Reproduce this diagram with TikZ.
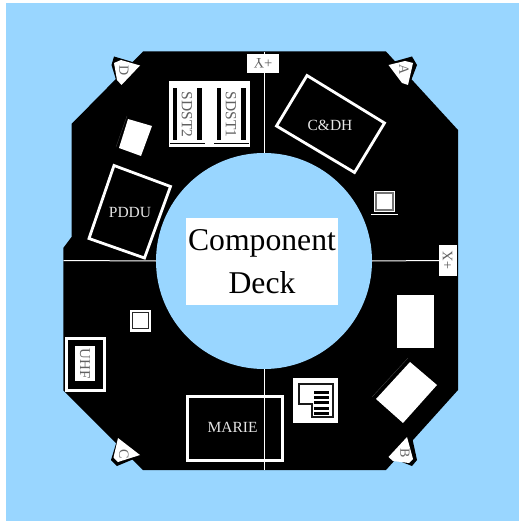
\documentclass[tikz,border=0pt]{standalone}
\usepackage{fontspec}
\setmainfont{Liberation Serif}
\definecolor{skyb}{HTML}{99D6FF}
\tikzset{
  box/.style={inner sep=0pt,outer sep=0pt,align=center},
  solidw/.style={box,fill=white},
  solidk/.style={box,fill=black},
  frame/.style={box,draw=white,line width=2.8pt},
  framelabel/.style={box,text=white!90!black,font=\fontsize{15.5}{15.5}\selectfont},
  tag/.style={box,text=black!62,font=\fontsize{15.5}{15.5}\selectfont,rotate=-90},
  cornertag/.style={box,text=black!60,font=\fontsize{14}{14}\selectfont,rotate=-90},
  axistag/.style={box,text=black!62,font=\fontsize{14.5}{14.5}\selectfont},
  axis/.style={draw=white,line width=1pt},
  faint/.style={draw=black!72,line width=0.3pt},
  under/.style={draw=black,line width=1pt},
}
\begin{document}
\begin{tikzpicture}[x=1pt,y=-1pt]
\useasboundingbox (0,0) rectangle (519,521);
\fill[white] (0,0) rectangle (519,521);
\fill[skyb] (6,3) rectangle (519,521);
% deck
\fill[black] (143,51.5) -- (386,51.5) -- (458,130) -- (458,390) -- (386,470) -- (143,470) -- (63.3,390.5) -- (63.3,248) -- (71.5,237) -- (71.5,124) -- cycle;
\node[circle,fill=skyb,minimum size=216pt,box] (hole) at (264,261) {};
% axis lines
\coordinate (topend) at (264,52);
\coordinate (botend) at (264,469.5);
\coordinate (leftend) at (63.5,260.5);
\coordinate (rightend) at (440,260.5);
\draw[axis] (topend) -- (hole.north);
\draw[axis] (hole.south) -- (botend);
\draw[axis] (leftend) -- (hole.west);
\draw[axis] (hole.east) -- (rightend);
% centre label
\node[solidw,minimum width=152pt,minimum height=87pt,font=\fontsize{31.7}{43}\selectfont] (title) at (262,261.5) {Component\\Deck};
% axis tags
\node[solidw,minimum width=32pt,minimum height=19pt] (ypbox) at (263,63.5) {};
\node[axistag,rotate=180] (yp) at (263,63.5) {+Y};
\node[solidw,minimum width=18pt,minimum height=31pt] (xpbox) at (448,260) {};
\node[axistag,rotate=90] (xp) at (447.5,260) {+X};
% corner markers
\fill[black] (114,56.5) -- (141,64.5) -- (122,87) -- (117,83) -- (111.5,65) -- cycle;
\fill[white] (114,63) -- (121,60) -- (140,65.5) -- (121.5,85) -- (117,80) -- cycle;
\node[cornertag] (D) at (124,71) {D};
\fill[black] (389,63) -- (412,56.5) -- (417,65) -- (409,86) -- cycle;
\fill[white] (388.5,65) -- (405,61) -- (413,63) -- (408,85) -- (402,83) -- cycle;
\node[cornertag] (A) at (404,70) {A};
\fill[black] (389,457) -- (407,437) -- (412,437) -- (417,460) -- (412,466) -- cycle;
\fill[white] (388.5,457) -- (407,437) -- (413,459) -- (409,463) -- (393,461) -- cycle;
\node[cornertag] (B) at (405,453) {B};
\fill[black] (118,437) -- (141,456) -- (117,466) -- (111,460) -- cycle;
\fill[white] (118,438) -- (140,455) -- (118,462) -- (113.5,457.5) -- cycle;
\node[cornertag] (C) at (124,454) {C};
% SDST block
\node[solidw,minimum width=81pt,minimum height=66pt] (sdstbase) at (209.5,114) {};
\node[solidk,minimum width=29pt,minimum height=52pt] (s2back) at (187.5,114) {};
\node[solidw,minimum width=20pt,minimum height=52pt] (s2lab) at (187,114) {};
\node[tag] (s2) at (187,114.5) {SDST2};
\node[solidk,minimum width=29pt,minimum height=52pt] (s1back) at (231.5,114) {};
\node[solidw,minimum width=20pt,minimum height=52pt] (s1lab) at (231,114) {};
\node[tag] (s1) at (231,114.5) {SDST1};
\coordinate (u1a) at (170,143.5); \coordinate (u1b) at (205,143.5);
\coordinate (u2a) at (214,143.5); \coordinate (u2b) at (249,143.5);
\draw[under] (u1a) -- (u1b);
\draw[under] (u2a) -- (u2b);
% small tilted block, top left
\fill[white] (128,119) -- (152,126) -- (141,156) -- (119,148) -- cycle;
\draw[faint] (127,116) -- (116,147);
% PDDU
\draw[white,line width=2.8pt,line join=miter] (114,165.5) -- (170.5,186.5) -- (144.5,258) -- (89,238.5) -- cycle;
\node[framelabel] (pddu) at (130,213) {PDDU};
% C&DH
\draw[white,line width=2.8pt,line join=miter] (307,75.5) -- (384.5,123) -- (354.5,172.5) -- (276.5,126) -- cycle;
\node[framelabel] (cdh) at (330,125) {C\&DH};
% small square, right
\node[solidw,minimum width=21pt,minimum height=21pt] (sqa) at (384.5,201.5) {};
\node[box,fill=white,draw=black!55,line width=1.2pt,minimum width=17pt,minimum height=17pt] (sqai) at (384.5,201.5) {};
\coordinate (ula) at (371,214.2); \coordinate (ulb) at (398,214.2);
\draw[axis] (ula) -- (ulb);
% small square, left
\node[solidw,minimum width=21pt,minimum height=22pt] (sqb) at (140.5,321) {};
\node[box,fill=white,draw=black!85,line width=0.8pt,minimum width=16.5pt,minimum height=16.5pt] (sqbi) at (140.5,320.5) {};
% UHF
\node[frame,minimum width=38.5pt,minimum height=52pt] (uhfframe) at (85.5,364.5) {};
\node[solidw,minimum width=20pt,minimum height=35pt] (uhflab) at (85,363.5) {};
\node[tag,font=\fontsize{15}{15}\selectfont] (uhf) at (85,363.5) {UHF};
% MARIE
\node[frame,minimum width=95.5pt,minimum height=64pt] (marie) at (235,428.5) {};
\node[framelabel] (marielab) at (232.5,427) {MARIE};
% white boxes right
\node[solidw,minimum width=37pt,minimum height=53pt] (blockr) at (415.5,321.5) {};
\fill[white] (410,362) -- (437,385) -- (403,423) -- (376,399) -- cycle;
\draw[faint] (408,358) -- (372,397);
% icon
\node[solidw,minimum width=45pt,minimum height=45pt] (icon) at (315.5,400.5) {};
\draw[black!90,line width=2pt,line join=miter] (299,384) -- (332.5,384) -- (332.5,417) -- (311.5,417) -- (311.5,403.5) -- (299,403.5) -- cycle;
\foreach \yy in {392.2,397.5,402.8,408.1,413.4}{\fill[black] (314,\yy-1.4) rectangle (329,\yy+1.4);}
\end{tikzpicture}
\end{document}
